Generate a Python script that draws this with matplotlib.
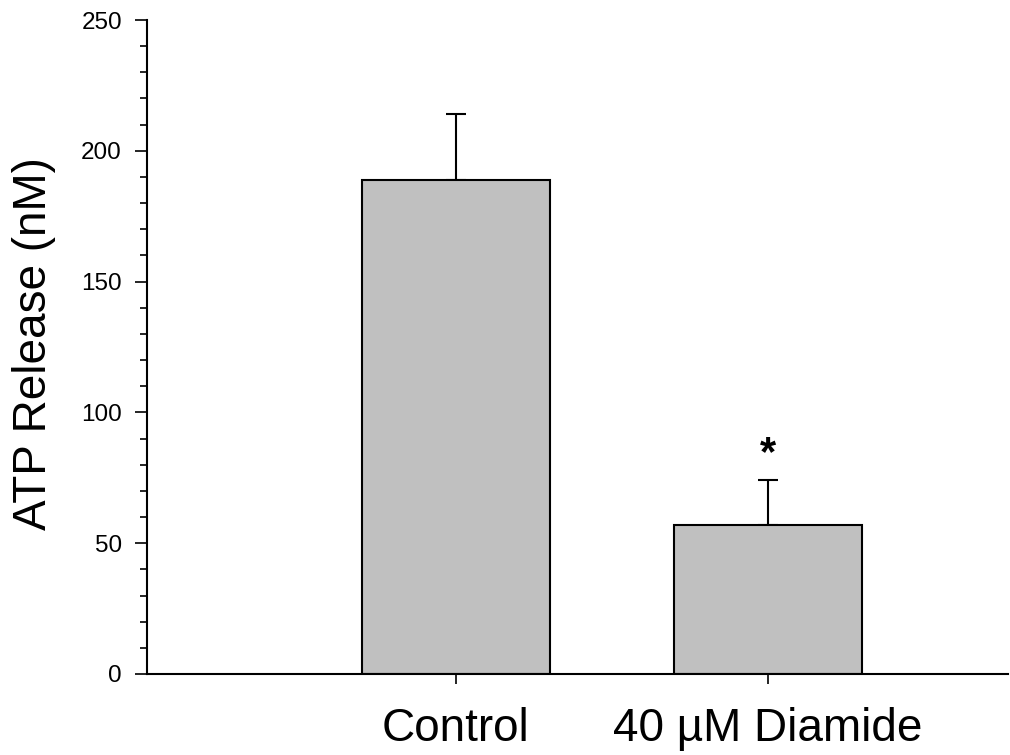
import matplotlib
matplotlib.use("Agg")
import matplotlib.pyplot as plt
from matplotlib.ticker import MultipleLocator

plt.rcParams['font.family'] = ['Liberation Sans', 'DejaVu Sans']

categories = ["Control", "40 \u00b5M Diamide"]
means = [189, 57]
errors = [25, 17]
significance = ["", "*"]

fig = plt.figure(figsize=(10.10, 7.55), dpi=100)
ax = fig.add_axes([0.1455, 0.1073, 0.853, 0.8662])

x = [0, 1]
ax.bar(x, means, width=0.6, color="#c0c0c0", edgecolor="black", linewidth=1.5, zorder=2)
ax.errorbar(x, means, yerr=[[0, 0], errors], fmt="none", ecolor="black",
            elinewidth=1.5, capsize=7.5, capthick=1.5, zorder=1)

for xi, m, e, s in zip(x, means, errors, significance):
    if s:
        ax.text(xi, m + e + 6, s, ha="center", va="baseline", fontsize=30,
                fontweight="bold")

ax.set_xlim(-0.99, 1.77)
ax.set_ylim(0, 250)
ax.yaxis.set_major_locator(MultipleLocator(50))
ax.yaxis.set_minor_locator(MultipleLocator(10))
ax.set_xticks(x)
ax.set_xticklabels(categories, fontsize=33)
ax.tick_params(axis="x", length=7, width=1.2, pad=17)
ax.tick_params(axis="y", which="major", length=9, width=1.2, labelsize=17.5, pad=9)
ax.tick_params(axis="y", which="minor", length=5, width=1.2)

for side in ("top", "right"):
    ax.spines[side].set_visible(False)
for side in ("left", "bottom"):
    ax.spines[side].set_linewidth(1.5)

ax.set_ylabel("ATP Release (nM)", fontsize=33)
ax.yaxis.set_label_coords(-0.105, 0.505)

fig.savefig("out.png", dpi=100)
